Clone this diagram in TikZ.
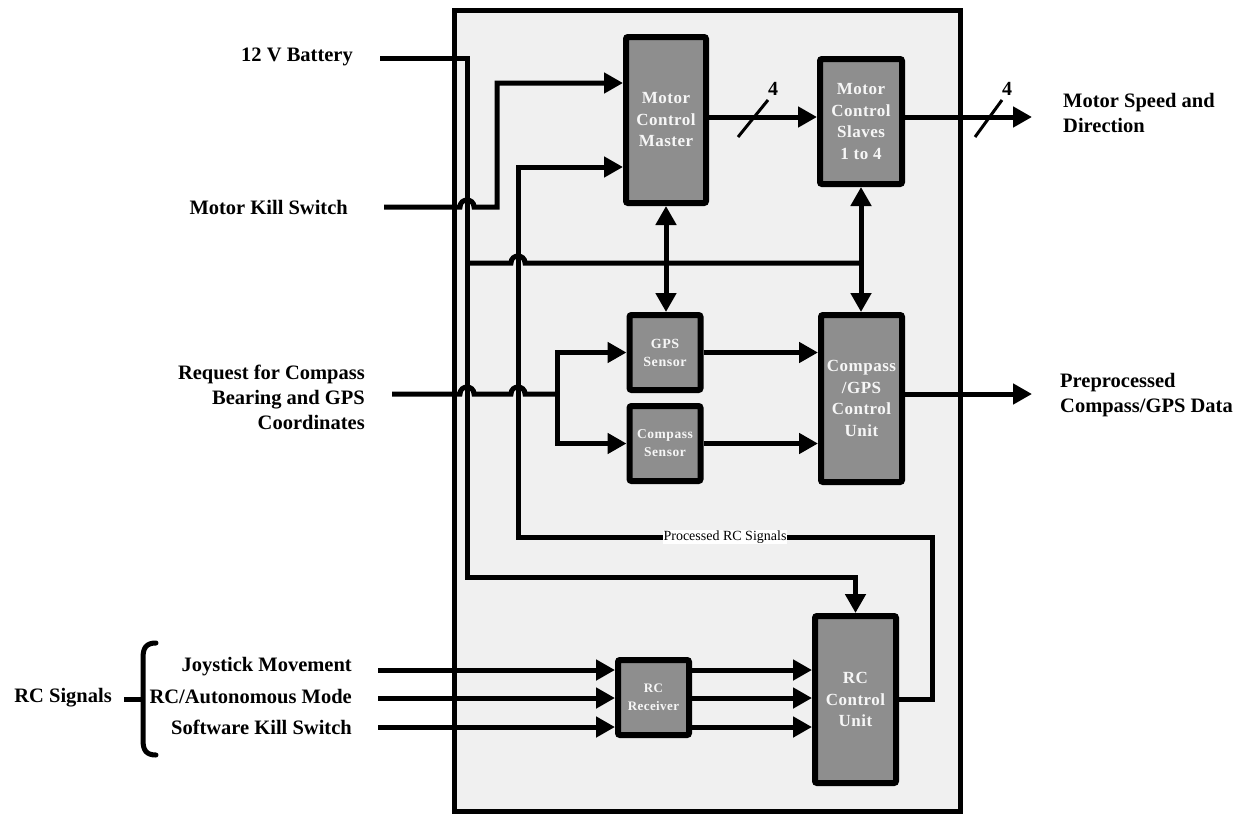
\documentclass[tikz,border=0pt]{standalone}
\usepackage{fontspec}
\setmainfont{Liberation Serif}
\usetikzlibrary{arrows.meta,calc}
\definecolor{boxgray}{HTML}{8E8E8E}
\definecolor{panel}{HTML}{F0F0F0}
\definecolor{boxtext}{HTML}{F6F6F6}
\begin{document}
\begin{tikzpicture}[x=1pt,y=-1pt,
  blk/.style={draw=black, line width=6pt, fill=boxgray, rounded corners=2pt, text=boxtext,
    font=\bfseries\fontsize{17}{21.5}\selectfont\addfontfeatures{LetterSpace=3}, align=center, inner sep=0pt},
  smallblk/.style={blk, minimum width=71pt, minimum height=75pt, font=\bfseries\fontsize{13.5}{18}\selectfont\addfontfeatures{LetterSpace=4}},
  conn/.style={line width=5pt},
  arr/.style={conn, -{Triangle[length=19pt,width=20pt]}},
  darr/.style={conn, {Triangle[length=19pt,width=20pt]}-{Triangle[length=19pt,width=20pt]}},
  lbl/.style={font=\bfseries\fontsize{20.5}{25}\selectfont, inner sep=0pt, text=black},
  slash/.style={line width=3pt},
  cnt/.style={font=\bfseries\fontsize{20}{22}\selectfont, inner sep=0pt},
]
\useasboundingbox (0,0) rectangle (1247,817);

% system panel
\node[draw=black, line width=5pt, fill=panel, minimum width=506pt, minimum height=801pt, inner sep=0pt] (sys) at (707.5,411) {};

% blocks
\node[blk, minimum width=80pt, minimum height=166pt] (mcm) at (666,120) {Motor\\Control\\Master};
\node[blk, minimum width=82pt, minimum height=125pt] (sl) at (861,121.5) {Motor\\Control\\Slaves\\1 to 4};
\node[smallblk, font=\bfseries\fontsize{14}{18}\selectfont\addfontfeatures{LetterSpace=4}] (gps) at (665,352.5) {GPS\\Sensor};
\node[smallblk] (cs) at (665,443.5) {Compass\\Sensor};
\node[blk, minimum width=81pt, minimum height=167pt] (cg) at (861.5,398.5) {Compass\\/GPS\\Control\\Unit};
\node[smallblk, font=\bfseries\fontsize{13}{18}\selectfont\addfontfeatures{LetterSpace=3}] (rr) at (653.5,697.5) {RC\\Receiver};
\node[blk, minimum width=81pt, minimum height=167pt] (rcu) at (855.5,699.5) {RC\\Control\\Unit};

% outside labels
\node[lbl, anchor=east] (lbat) at (353,57) {12 V Battery};
\node[lbl, anchor=east] (lmks) at (348,207) {Motor Kill Switch};
\node[lbl, anchor=east, align=right] (lreq) at (365,397) {Request for Compass\\Bearing and GPS\\Coordinates};
\node[lbl, anchor=west, align=left] (lmsd) at (1063,113) {Motor Speed and\\Direction};
\node[lbl, anchor=west, align=left] (lpre) at (1060,395) {Preprocessed\\Compass/GPS Data};
\node[lbl, anchor=east] (ljoy) at (352,667) {Joystick Movement};
\node[lbl, anchor=east] (lmode) at (352,697) {RC/Autonomous Mode};
\node[lbl, anchor=east] (lsks) at (352,727) {Software Kill Switch};
\node[lbl, anchor=east] (lrcs) at (112,698) {RC Signals};

% free ends and turning points
\coordinate (bat) at (380,58);
\coordinate (batv) at (467,577);
\coordinate (mks) at (384,207);
\coordinate (mk1) at (497,83);
\coordinate (req) at (392,394);
\coordinate (split) at (557,394);
\coordinate (prc1) at (932,537);
\coordinate (prc2) at (518,167);
\coordinate (bus0) at (467,263);
\coordinate (s1) at (817,117);
\coordinate (out1) at (1032,117);
\coordinate (out2) at (1032,394);
\coordinate (in1) at (378,670);
\coordinate (in2) at (378,698);
\coordinate (in3) at (378,727);
\coordinate (brtip) at (124,699);

% 12 V battery
\draw[arr] (bat) -| (batv) -| (rcu.north);
% power bus
\draw[conn] (bus0) -- (511,263) .. controls (511,253.7) and (525,253.7) .. (525,263) -- (sl.south |- bus0);
\draw[darr] (mcm.south) -- (mcm.south |- gps.north);
\draw[darr] (sl.south) -- (sl.south |- cg.north);
% motor kill switch
\draw[arr] (mks) -- (460,207) .. controls (460,197.7) and (474,197.7) .. (474,207) -- (mk1 |- mks) -- (mk1) -- (mk1 -| mcm.west);
% processed RC signals
\draw[arr] (rcu.east) -| (prc1) -| (prc2) -- (prc2 -| mcm.west);
\node[fill=white, inner sep=1pt, font=\fontsize{14}{16}\selectfont] (lprc) at (725,537) {Processed RC Signals};
% request
\draw[conn] (req) -- (460,394) .. controls (460,384.7) and (474,384.7) .. (474,394) -- (511,394) .. controls (511,384.7) and (525,384.7) .. (525,394) -- (split);
\draw[arr] (split) |- (gps.west);
\draw[arr] (split) |- (cs.west);
\draw[arr] (gps.east) -- (gps.east -| cg.west);
\draw[arr] (cs.east) -- (cs.east -| cg.west);
\draw[arr] (cg.east |- out2) -- (out2);
% motor control
\draw[arr] (s1 -| mcm.east) -- (s1);
\draw[slash] (738,137) -- (768,100);
\node[cnt] (n4a) at (773,89) {4};
\draw[arr] (sl.east |- out1) -- (out1);
\draw[slash] (975,137) -- (1002,100);
\node[cnt] (n4b) at (1007,89) {4};
% RC inputs
\draw[arr] (in1) -- (in1 -| rr.west);
\draw[arr] (in2) -- (in2 -| rr.west);
\draw[arr] (in3) -- (in3 -| rr.west);
\draw[arr] (in1 -| rr.east) -- (in1 -| rcu.west);
\draw[arr] (in2 -| rr.east) -- (in2 -| rcu.west);
\draw[arr] (in3 -| rr.east) -- (in3 -| rcu.west);
% brace
\draw[line width=5pt, line cap=round] (156,643) .. controls (146,643) and (143,648) .. (143,658) -- (143,740) .. controls (143,750) and (146,755) .. (156,755);
\draw[line width=5pt] (brtip) -- (143,699);
\end{tikzpicture}
\end{document}
